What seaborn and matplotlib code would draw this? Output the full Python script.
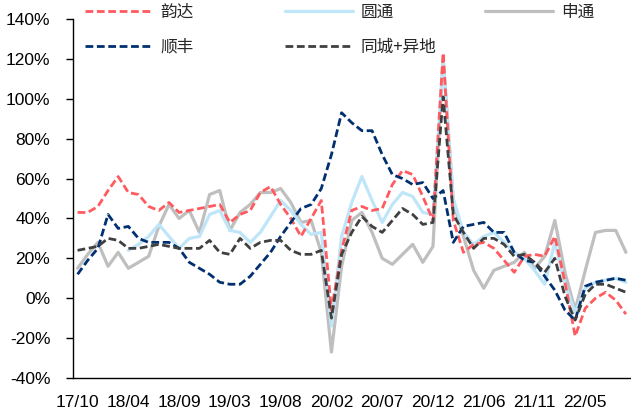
import numpy as np
import pandas as pd
import matplotlib
matplotlib.use("Agg")
import matplotlib.pyplot as plt
import seaborn as sns
from matplotlib.ticker import FixedLocator, FuncFormatter

# monthly categories, Jan merged into Feb
tick_labels = ["17/10", "18/04", "18/09", "19/03", "19/08", "20/02",
               "20/07", "20/12", "21/06", "21/11", "22/05"]

yunda = [43, 43, 46, 54, 61, 53, 52, 46, 44, 48, 43, 44, 45, 46, 47, 38, 42, 44, 53, 56,
         47, 40, 31, 40, 49, -6, 24, 44, 46, 44, 45, 57, 64, 62, 51, 39, 123, 39, 23, 27,
         28, 25, 19, 13, 21, 22, 21, 31, 8, -19, -5, 0, 3, -1, -8]
yto = [np.nan] * 5 + [24, 27, 31, 37, 31, 25, 30, 31, 42, 44, 34, 33, 28, 33, 41,
         49, 44, 37, 32, 33, -14, 31, 48, 61, 49, 38, 47, 53, 51, 43, 42, 119, 50, 33, 27,
         31, 33, 28, 23, 20, 14, 7, 28, 7, -7, 5, 8, 9, 10, 8]
sto = [15, 22, 28, 16, 23, 15, 18, 21, 36, 47, 40, 44, 33, 52, 54, 34, 43, 47, 53, 53,
       55, 48, 38, 39, 23, -27, 16, 39, 43, 33, 20, 17, 22, 27, 18, 26, 121, 48, 31, 14,
       5, 14, 16, 18, 23, 15, 21, 39, 13, -6, 14, 33, 34, 34, 23]
sf = [12, 19, 25, 42, 35, 36, 30, 28, 28, 28, 25, 18, 15, 12, 8, 7, 7, 11, 17, 23,
      31, 38, 45, 47, 55, 72, 93, 88, 84, 84, 72, 62, 60, 57, 58, 50, 54, 28, 36, 37,
      38, 33, 33, 23, 19, 18, 11, 4, -6, -11, 6, 8, 9, 10, 9]
total = [24, 25, 26, 30, 29, 25, 25, 26, 27, 26, 25, 25, 25, 29, 23, 22, 30, 25, 28, 29,
         29, 24, 22, 22, 24, -10, 22, 33, 41, 36, 33, 39, 45, 42, 37, 38, 101, 42, 33, 25,
         30, 30, 27, 21, 22, 18, 13, 20, 1, -11, 2, 7, 7, 5, 3]

idx = np.arange(len(yunda))
df = pd.DataFrame({"idx": idx, "韵达": yunda, "圆通": yto, "申通": sto,
                   "顺丰": sf, "同城+异地": total})

sns.set_theme(style="white")
plt.rcParams["font.family"] = ["Liberation Sans", "Noto Sans CJK SC"]

fig = plt.figure(figsize=(6.31, 4.15), dpi=100)
ax = fig.add_axes([72.5 / 631, 37 / 415, (631 - 72.5) / 631, (378 - 19) / 415])

dash = (0, (2.8, 1.3))
styles = {
    "申通": dict(color="#BFBFBF", linewidth=2.3, linestyle="-"),
    "圆通": dict(color="#BEE6F8", linewidth=2.3, linestyle="-"),
    "韵达": dict(color="#FF5A5F", linewidth=2.0, linestyle=dash),
    "顺丰": dict(color="#003070", linewidth=2.0, linestyle=dash),
    "同城+异地": dict(color="#404040", linewidth=2.0, linestyle=dash),
}
for name in ["申通", "圆通", "韵达", "顺丰", "同城+异地"]:
    sns.lineplot(data=df, x="idx", y=name, ax=ax, label=name, errorbar=None,
                 **styles[name])

if ax.get_legend() is not None:
    ax.get_legend().remove()

ax.set_xlim(-0.5, len(yunda) - 0.5)
ax.set_ylim(-40, 140)
ax.set_xlabel("")
ax.set_ylabel("")

ax.xaxis.set_major_locator(FixedLocator(np.arange(0, 51, 5)))
ax.set_xticklabels(tick_labels)
ax.xaxis.set_minor_locator(FixedLocator(np.arange(-0.5, 55, 5)))
ax.tick_params(axis="x", which="major", length=0, pad=12, labelsize=12.5, colors="black")
ax.tick_params(axis="x", which="minor", length=5, width=1, direction="out", color="black")
ax.set_yticks(np.arange(-40, 141, 20))
ax.yaxis.set_major_formatter(FuncFormatter(lambda v, p: f"{v:.0f}%"))
ax.tick_params(axis="y", length=5, width=1, direction="out", pad=11, labelsize=12.5,
               colors="black", left=True)

for side in ["top", "right"]:
    ax.spines[side].set_visible(False)
for side in ["left", "bottom"]:
    ax.spines[side].set_color("black")
    ax.spines[side].set_linewidth(1)

handles, labels = ax.get_legend_handles_labels()
lookup = dict(zip(labels, handles))
legend_font = {"family": ["Noto Sans CJK SC", "DejaVu Sans"], "size": 12}
columns = [(["韵达", "顺丰"], 85), (["圆通", "同城+异地"], 285), (["申通"], 485)]
for names, x_px in columns:
    fig.legend([lookup[n] for n in names], names, loc="upper left",
               bbox_to_anchor=(x_px / 631, 1 - 4 / 415), frameon=False, prop=legend_font,
               handlelength=4.1, handletextpad=0.45, labelspacing=1.05,
               borderpad=0, borderaxespad=0)

fig.savefig("out.png", dpi=100)
